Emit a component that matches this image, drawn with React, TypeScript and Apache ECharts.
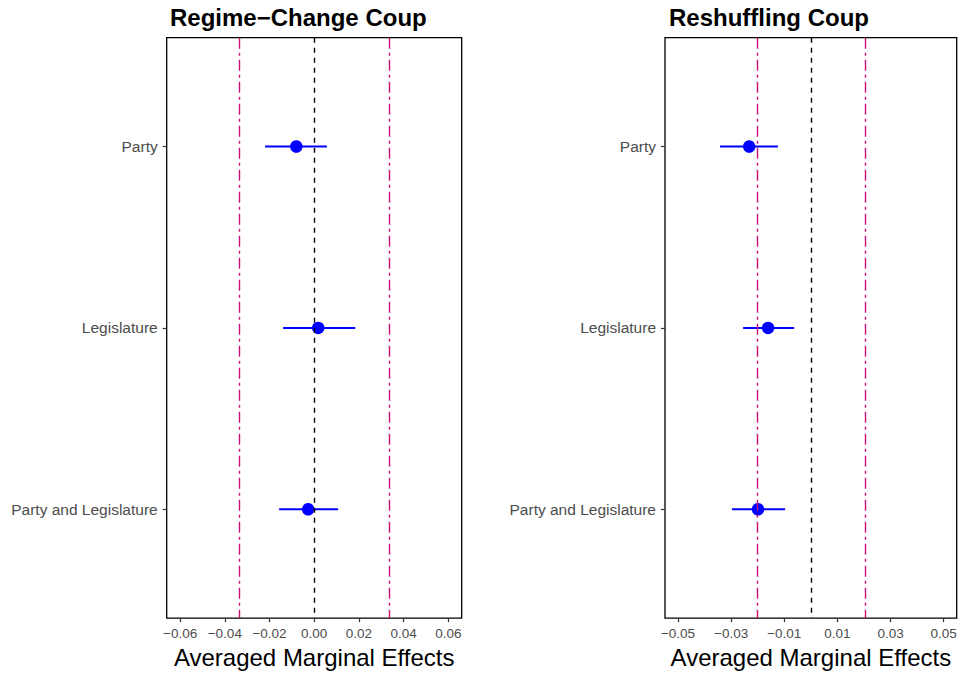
import React, { useEffect, useRef } from "react";
import * as echarts from "echarts";

const categories = ["Party", "Legislature", "Party and Legislature"];
const categoryPositions = [1, 2, 3];

const regimeEst = [-0.008, 0.0018, -0.0027];
const regimeLo = [-0.022, -0.0139, -0.0157];
const regimeHi = [0.0057, 0.0184, 0.0107];
const regimeBand = 0.0337;
const regimeTicks = [-0.06, -0.04, -0.02, 0.0, 0.02, 0.04, 0.06];

const reshufEst = [-0.0232, -0.0161, -0.0199];
const reshufLo = [-0.0342, -0.0255, -0.0297];
const reshufHi = [-0.0124, -0.0063, -0.0097];
const reshufBand = 0.0203;
const reshufTicks = [-0.05, -0.03, -0.01, 0.01, 0.03, 0.05];

const FONT = "Liberation Sans, Arial, Helvetica, sans-serif";
const MAGENTA = "#CD1076";
const BLUE = "#0000FF";

const fmt = (v: number) => {
  const s = Math.abs(v).toFixed(2);
  return v < -1e-9 ? "\u2212" + s : s;
};

function buildPanel(idx: number, est: number[], lo: number[], hi: number[], band: number, ticks: number[], range: number) {
  const xAxis = {
    type: "value",
    gridIndex: idx,
    min: -range,
    max: range,
    name: "Averaged Marginal Effects",
    nameLocation: "middle",
    nameGap: 23,
    nameTextStyle: { fontFamily: FONT, fontSize: 24, color: "#000" },
    axisLine: { show: false, onZero: false },
    axisTick: { show: true, customValues: ticks, length: 4, inside: false, lineStyle: { color: "#333", width: 1.2 } },
    axisLabel: { show: true, customValues: ticks, formatter: (v: number) => fmt(v), fontFamily: FONT, fontSize: 13.5, color: "#4D4D4D", margin: 8 },
    splitLine: { show: false },
  };
  const yAxis = {
    type: "value",
    gridIndex: idx,
    min: 0.4,
    max: 3.6,
    inverse: true,
    axisLine: { show: false, onZero: false },
    axisTick: { show: true, customValues: categoryPositions, length: 4, lineStyle: { color: "#333", width: 1.2 } },
    axisLabel: {
      show: true,
      customValues: categoryPositions,
      formatter: (v: number) => categories[Math.round(v) - 1] ?? "",
      fontFamily: FONT,
      fontSize: 15.5,
      color: "#4D4D4D",
      margin: 9,
    },
    splitLine: { show: false },
  };
  const barData = categories.map((_, i) => [lo[i], hi[i], categoryPositions[i]]);
  const dotData = categories.map((_, i) => [est[i], categoryPositions[i]]);
  const series = [
    {
      type: "scatter",
      xAxisIndex: idx,
      yAxisIndex: idx,
      data: [],
      silent: true,
      z: 1,
      markLine: {
        symbol: ["none", "none"],
        silent: true,
        precision: 6,
        label: { show: false },
        data: [
          { xAxis: 0, lineStyle: { color: "#000", type: [5, 5], width: 1.4 } },
          { xAxis: -band, lineStyle: { color: MAGENTA, type: [11, 4, 3, 4], width: 1.4 } },
          { xAxis: band, lineStyle: { color: MAGENTA, type: [11, 4, 3, 4], width: 1.4 } },
        ],
      },
    },
    {
      type: "custom",
      xAxisIndex: idx,
      yAxisIndex: idx,
      z: 3,
      encode: { x: [0, 1], y: 2 },
      data: barData,
      renderItem: (params: any, api: any) => {
        const a = api.coord([api.value(0), api.value(2)]);
        const b = api.coord([api.value(1), api.value(2)]);
        return {
          type: "line",
          shape: { x1: a[0], y1: a[1], x2: b[0], y2: b[1] },
          style: { stroke: BLUE, lineWidth: 2 },
        };
      },
    },
    {
      type: "scatter",
      xAxisIndex: idx,
      yAxisIndex: idx,
      z: 4,
      symbol: "circle",
      symbolSize: 12.5,
      itemStyle: { color: BLUE, opacity: 1 },
      data: dotData,
    },
  ];
  return { xAxis, yAxis, series };
}

export default function App() {
  const ref = useRef<HTMLDivElement>(null);
  useEffect(() => {
    if (!ref.current) return;
    const chart = echarts.init(ref.current, null, { renderer: "svg" });
    const p1 = buildPanel(0, regimeEst, regimeLo, regimeHi, regimeBand, regimeTicks, 0.066);
    const p2 = buildPanel(1, reshufEst, reshufLo, reshufHi, reshufBand, reshufTicks, 0.0549);
    chart.setOption({
      animation: false,
      backgroundColor: "#fff",
      title: [
        { text: "Regime\u2212Change Coup", left: 165, top: 0, textStyle: { fontFamily: FONT, fontSize: 24, fontWeight: "bold", color: "#000" } },
        { text: "Reshuffling Coup", left: 664, top: 0, textStyle: { fontFamily: FONT, fontSize: 24, fontWeight: "bold", color: "#000" } },
      ],
      grid: [
        { left: 166.7, right: 499.3, top: 37.7, bottom: 54.7, show: true, borderColor: "#000", borderWidth: 1.3, backgroundColor: "transparent" },
        { left: 665, right: 4.3, top: 37.7, bottom: 54.7, show: true, borderColor: "#000", borderWidth: 1.3, backgroundColor: "transparent" },
      ],
      xAxis: [p1.xAxis, p2.xAxis],
      yAxis: [p1.yAxis, p2.yAxis],
      series: [...p1.series, ...p2.series],
    });
    return () => chart.dispose();
  }, []);
  return <div ref={ref} style={{ position: "fixed", left: 0, top: 0, width: 961, height: 674 }} />;
}
